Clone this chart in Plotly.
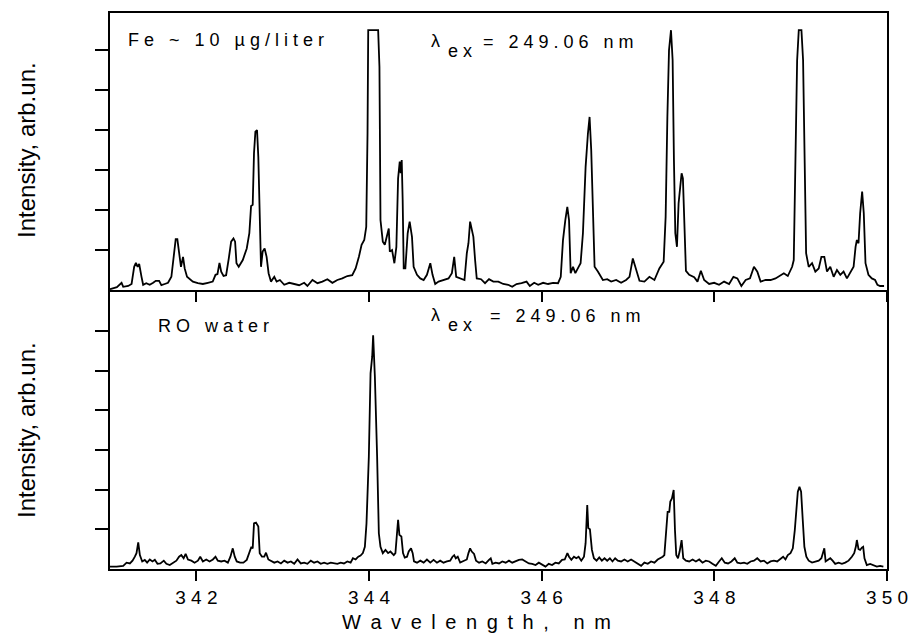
import plotly.graph_objects as go

# ---------------- data ----------------
fe_wavelength = [
    341.00, 341.08, 341.134, 341.153, 341.211, 341.25, 341.28, 341.30, 341.32, 341.338,
    341.365, 341.384, 341.42, 341.46, 341.50, 341.53, 341.569, 341.595, 341.634, 341.672,
    341.711, 341.738, 341.761, 341.78, 341.80, 341.822, 341.846, 341.865, 341.892, 341.922,
    341.96, 342.018, 342.076, 342.134, 342.19, 342.222, 342.245, 342.268, 342.288, 342.315,
    342.345, 342.376, 342.403, 342.43, 342.449, 342.465, 342.491, 342.538, 342.584, 342.614,
    342.634, 342.653, 342.668, 342.684, 342.703, 342.718, 342.734, 342.749, 342.768, 342.791,
    342.814, 342.837, 342.864, 342.903, 342.93, 342.968, 343.018, 343.076, 343.134, 343.191,
    343.249, 343.287, 343.345, 343.403, 343.46, 343.518, 343.576, 343.633, 343.691, 343.749,
    343.806, 343.845, 343.883, 343.914, 343.945, 343.968, 343.983, 343.991, 344.106, 344.121,
    344.133, 344.16, 344.183, 344.21, 344.229, 344.241, 344.267, 344.294, 344.317, 344.337,
    344.356, 344.367, 344.379, 344.39, 344.402, 344.421, 344.448, 344.471, 344.498, 344.517,
    344.556, 344.594, 344.633, 344.671, 344.71, 344.736, 344.767, 344.806, 344.863, 344.921,
    344.96, 344.987, 345.01, 345.056, 345.106, 345.133, 345.152, 345.171, 345.19, 345.209,
    345.229, 345.248, 345.298, 345.344, 345.39, 345.44, 345.498, 345.555, 345.613, 345.659,
    345.709, 345.767, 345.825, 345.863, 345.913, 345.96, 346.017, 346.074, 346.132, 346.19,
    346.221, 346.247, 346.274, 346.297, 346.317, 346.336, 346.363, 346.39, 346.428, 346.451,
    346.478, 346.509, 346.536, 346.555, 346.574, 346.594, 346.613, 346.651, 346.709, 346.759,
    346.805, 346.863, 346.92, 346.978, 347.017, 347.056, 347.094, 347.133, 347.19, 347.248,
    347.306, 347.363, 347.413, 347.436, 347.456, 347.475, 347.498, 347.517, 347.532, 347.548,
    347.567, 347.586, 347.605, 347.621, 347.636, 347.652, 347.671, 347.709, 347.767, 347.805,
    347.844, 347.882, 347.94, 347.998, 348.055, 348.113, 348.171, 348.221, 348.267, 348.313,
    348.363, 348.413, 348.459, 348.498, 348.536, 348.594, 348.651, 348.709, 348.767, 348.805,
    348.851, 348.901, 348.92, 348.94, 348.959, 348.978, 349.009, 349.028, 349.047, 349.063,
    349.093, 349.132, 349.17, 349.209, 349.24, 349.274, 349.305, 349.343, 349.382, 349.42,
    349.459, 349.497, 349.536, 349.574, 349.613, 349.636, 349.651, 349.67, 349.689, 349.712,
    349.731, 349.751, 349.785, 349.824, 349.862, 349.889, 349.92, 349.966,
]
fe_intensity = [
    0.02, 0.07, 0.18, 0.08, 0.10, 0.15, 0.58, 0.68, 0.58, 0.65,
    0.33, 0.13, 0.17, 0.13, 0.18, 0.23, 0.23, 0.12, 0.15, 0.18,
    0.33, 0.92, 1.27, 1.27, 0.92, 0.58, 0.83, 0.54, 0.33, 0.27,
    0.21, 0.17, 0.15, 0.18, 0.21, 0.38, 0.40, 0.68, 0.46, 0.35,
    0.37, 0.79, 1.21, 1.29, 1.21, 0.67, 0.58, 0.75, 1.04, 1.42,
    2.10, 2.13, 3.42, 3.96, 4.00, 3.33, 1.92, 0.58, 0.96, 1.04,
    0.83, 0.42, 0.21, 0.33, 0.21, 0.25, 0.13, 0.18, 0.15, 0.12,
    0.18, 0.10, 0.25, 0.17, 0.21, 0.27, 0.18, 0.25, 0.29, 0.35,
    0.37, 0.54, 0.83, 1.13, 1.25, 1.58, 3.92, 6.50, 6.50, 5.58,
    1.75, 1.21, 1.13, 1.38, 1.54, 0.96, 1.00, 0.67, 1.08, 2.79,
    3.21, 2.92, 3.25, 2.25, 0.54, 0.54, 1.42, 1.71, 1.33, 0.58,
    0.38, 0.29, 0.25, 0.38, 0.67, 0.38, 0.15, 0.21, 0.25, 0.29,
    0.42, 0.83, 0.33, 0.29, 0.25, 0.92, 1.17, 1.71, 1.50, 1.33,
    0.75, 0.29, 0.27, 0.17, 0.27, 0.21, 0.21, 0.15, 0.13, 0.08,
    0.15, 0.17, 0.21, 0.10, 0.18, 0.13, 0.18, 0.15, 0.18, 0.17,
    0.33, 1.25, 1.75, 2.08, 1.75, 0.42, 0.58, 0.42, 0.58, 0.67,
    1.42, 3.08, 3.92, 4.33, 3.50, 1.83, 0.58, 0.46, 0.25, 0.27,
    0.21, 0.25, 0.18, 0.25, 0.33, 0.79, 0.50, 0.23, 0.21, 0.33,
    0.25, 0.54, 0.71, 1.83, 4.33, 6.00, 6.50, 5.75, 3.25, 1.42,
    1.08, 2.17, 2.58, 2.92, 2.79, 1.42, 0.48, 0.38, 0.32, 0.21,
    0.48, 0.25, 0.15, 0.18, 0.13, 0.21, 0.15, 0.33, 0.29, 0.10,
    0.25, 0.29, 0.58, 0.46, 0.21, 0.25, 0.25, 0.29, 0.38, 0.42,
    0.35, 0.58, 0.75, 3.08, 5.75, 6.50, 6.50, 5.75, 3.08, 0.92,
    0.58, 0.67, 0.46, 0.54, 0.83, 0.83, 0.46, 0.58, 0.33, 0.50,
    0.38, 0.46, 0.29, 0.43, 0.58, 1.08, 1.25, 1.17, 1.92, 2.46,
    1.92, 0.67, 0.38, 0.29, 0.25, 0.13, 0.10, 0.10,
]

ro_wavelength = [
    341.00, 341.077, 341.153, 341.192, 341.23, 341.261, 341.288, 341.307, 341.327, 341.346,
    341.373, 341.403, 341.43, 341.461, 341.492, 341.519, 341.55, 341.584, 341.623, 341.653,
    341.692, 341.73, 341.769, 341.80, 341.826, 341.853, 341.876, 341.903, 341.942, 341.98,
    342.018, 342.045, 342.076, 342.115, 342.153, 342.192, 342.222, 342.249, 342.288, 342.326,
    342.365, 342.395, 342.422, 342.445, 342.468, 342.507, 342.545, 342.584, 342.614, 342.638,
    342.653, 342.668, 342.691, 342.718, 342.734, 342.76, 342.787, 342.807, 342.834, 342.864,
    342.903, 342.941, 342.98, 343.018, 343.057, 343.095, 343.134, 343.172, 343.21, 343.249,
    343.287, 343.326, 343.364, 343.403, 343.441, 343.48, 343.518, 343.557, 343.595, 343.633,
    343.672, 343.71, 343.749, 343.787, 343.814, 343.845, 343.876, 343.902, 343.929, 343.952,
    343.971, 343.998, 344.018, 344.037, 344.048, 344.068, 344.094, 344.114, 344.133, 344.16,
    344.191, 344.221, 344.248, 344.287, 344.306, 344.321, 344.337, 344.352, 344.375, 344.394,
    344.414, 344.44, 344.46, 344.487, 344.506, 344.521, 344.556, 344.594, 344.633, 344.671,
    344.71, 344.748, 344.787, 344.825, 344.863, 344.902, 344.94, 344.967, 344.987, 345.005,
    345.028, 345.056, 345.094, 345.133, 345.152, 345.171, 345.19, 345.217, 345.24, 345.275,
    345.313, 345.352, 345.39, 345.41, 345.429, 345.467, 345.506, 345.544, 345.583, 345.621,
    345.659, 345.698, 345.736, 345.775, 345.813, 345.852, 345.89, 345.929, 345.967, 346.005,
    346.044, 346.082, 346.121, 346.159, 346.198, 346.236, 346.267, 346.298, 346.317, 346.344,
    346.374, 346.401, 346.428, 346.459, 346.49, 346.509, 346.521, 346.528, 346.54, 346.559,
    346.582, 346.605, 346.636, 346.667, 346.697, 346.728, 346.759, 346.79, 346.82, 346.851,
    346.882, 346.92, 346.959, 346.997, 347.036, 347.074, 347.113, 347.152, 347.19, 347.229,
    347.267, 347.306, 347.344, 347.375, 347.402, 347.421, 347.44, 347.459, 347.478, 347.49,
    347.509, 347.529, 347.544, 347.559, 347.579, 347.598, 347.621, 347.64, 347.671, 347.709,
    347.748, 347.786, 347.825, 347.863, 347.901, 347.94, 347.978, 348.017, 348.055, 348.086,
    348.121, 348.159, 348.198, 348.236, 348.267, 348.305, 348.344, 348.382, 348.42, 348.459,
    348.497, 348.536, 348.574, 348.613, 348.651, 348.69, 348.728, 348.767, 348.797, 348.824,
    348.851, 348.882, 348.909, 348.932, 348.951, 348.967, 348.986, 349.005, 349.024, 349.043,
    349.066, 349.093, 349.132, 349.17, 349.209, 349.24, 349.259, 349.274, 349.289, 349.316,
    349.343, 349.37, 349.40, 349.439, 349.478, 349.516, 349.555, 349.593, 349.62, 349.639,
    349.651, 349.67, 349.689, 349.709, 349.724, 349.739, 349.766, 349.805, 349.843, 349.882,
    349.92, 349.958,
]
ro_intensity = [
    0.06, 0.06, 0.08, 0.16, 0.14, 0.21, 0.31, 0.40, 0.67, 0.35,
    0.19, 0.23, 0.16, 0.24, 0.19, 0.23, 0.13, 0.14, 0.21, 0.13,
    0.10, 0.16, 0.21, 0.31, 0.35, 0.27, 0.38, 0.24, 0.21, 0.16,
    0.21, 0.31, 0.19, 0.24, 0.19, 0.24, 0.31, 0.21, 0.19, 0.21,
    0.16, 0.31, 0.52, 0.31, 0.19, 0.16, 0.16, 0.23, 0.40, 0.56,
    0.52, 1.15, 1.17, 1.07, 0.40, 0.31, 0.31, 0.41, 0.24, 0.21,
    0.16, 0.19, 0.14, 0.21, 0.16, 0.19, 0.13, 0.24, 0.14, 0.16,
    0.13, 0.21, 0.16, 0.19, 0.13, 0.16, 0.13, 0.16, 0.14, 0.13,
    0.16, 0.14, 0.19, 0.16, 0.27, 0.24, 0.31, 0.34, 0.40, 0.56,
    1.15, 2.83, 4.93, 5.35, 5.89, 4.85, 2.83, 0.90, 0.56, 0.40,
    0.48, 0.40, 0.44, 0.35, 0.40, 0.82, 1.24, 0.86, 0.82, 0.40,
    0.29, 0.31, 0.44, 0.52, 0.40, 0.19, 0.16, 0.21, 0.16, 0.24,
    0.16, 0.23, 0.16, 0.21, 0.16, 0.19, 0.21, 0.31, 0.35, 0.27,
    0.31, 0.16, 0.19, 0.24, 0.40, 0.52, 0.44, 0.38, 0.21, 0.16,
    0.19, 0.14, 0.23, 0.27, 0.13, 0.16, 0.14, 0.19, 0.16, 0.21,
    0.16, 0.19, 0.23, 0.24, 0.19, 0.14, 0.13, 0.10, 0.16, 0.10,
    0.06, 0.13, 0.10, 0.16, 0.14, 0.23, 0.24, 0.40, 0.31, 0.23,
    0.31, 0.27, 0.31, 0.21, 0.31, 0.65, 1.24, 1.61, 1.03, 1.00,
    0.48, 0.27, 0.21, 0.29, 0.21, 0.27, 0.21, 0.27, 0.19, 0.27,
    0.21, 0.19, 0.24, 0.19, 0.24, 0.19, 0.13, 0.08, 0.16, 0.13,
    0.19, 0.16, 0.24, 0.27, 0.31, 0.35, 0.82, 1.44, 1.44, 1.70,
    1.78, 1.99, 0.98, 0.35, 0.27, 0.44, 0.73, 0.27, 0.21, 0.19,
    0.24, 0.19, 0.24, 0.16, 0.21, 0.19, 0.13, 0.08, 0.19, 0.27,
    0.16, 0.14, 0.19, 0.27, 0.16, 0.14, 0.16, 0.13, 0.19, 0.21,
    0.27, 0.19, 0.21, 0.14, 0.19, 0.21, 0.19, 0.27, 0.31, 0.24,
    0.35, 0.40, 0.52, 0.98, 1.65, 1.95, 2.07, 1.95, 1.24, 0.56,
    0.31, 0.21, 0.16, 0.19, 0.21, 0.27, 0.40, 0.52, 0.19, 0.23,
    0.27, 0.21, 0.13, 0.16, 0.13, 0.16, 0.21, 0.31, 0.40, 0.56,
    0.73, 0.50, 0.48, 0.54, 0.56, 0.27, 0.10, 0.13, 0.10, 0.06,
    0.08, 0.06,
]

x_tick_values = [342, 344, 346, 348, 350]
x_tick_labels = ["342", "344", "346", "348", "350"]
y_tick_values = [1, 2, 3, 4, 5, 6]

x_title = "Wavelength, nm"
y_title = "Intensity, arb.un."
top_label = "Fe ~ 10 µg/liter"
bottom_label = "RO water"
excitation_value = "= 249.06 nm"

# ---------------- styling helpers ----------------
W, H = 909, 640
FONT = "Liberation Sans, Arial, sans-serif"
NB = "\u00a0"
THIN = "\u2009"


def spaced(s, gap=NB):
    return gap.join(s)


def px(x):
    return x / W


def py(y):
    return 1 - y / H


x_dom = [px(110), px(887)]
top_dom = [py(290), py(13)]
bot_dom = [py(569), py(290)]

fig = go.Figure()
fig.add_trace(go.Scatter(x=fe_wavelength, y=fe_intensity, mode="lines",
                         line=dict(color="black", width=1.8), xaxis="x", yaxis="y",
                         showlegend=False, hoverinfo="skip"))
fig.add_trace(go.Scatter(x=ro_wavelength, y=ro_intensity, mode="lines",
                         line=dict(color="black", width=1.8), xaxis="x2", yaxis="y2",
                         showlegend=False, hoverinfo="skip"))

axis_common = dict(showline=True, linecolor="black", linewidth=2,
                   showgrid=False, zeroline=False, ticks="outside",
                   tickcolor="black", tickwidth=2, automargin=False)

fig.update_layout(
    width=W, height=H,
    margin=dict(l=0, r=0, t=0, b=0),
    paper_bgcolor="white", plot_bgcolor="white",
    font=dict(family=FONT, color="black"),
    xaxis=dict(domain=x_dom, anchor="y", range=[341, 350], tickvals=x_tick_values,
               showticklabels=False, ticklen=10, mirror=True, **axis_common),
    yaxis=dict(domain=top_dom, anchor="x", range=[0, 6.93], tickvals=y_tick_values,
               showticklabels=False, ticklen=13, mirror=True, **axis_common),
    xaxis2=dict(domain=x_dom, anchor="y2", range=[341, 350], tickvals=x_tick_values,
                ticktext=[spaced(t) for t in x_tick_labels], ticklen=10,
                tickfont=dict(size=19, family=FONT, color="black"),
                ticklabelstandoff=0, mirror=False, **axis_common),
    yaxis2=dict(domain=bot_dom, anchor="x2", range=[0, 7.03], tickvals=y_tick_values,
                showticklabels=False, ticklen=13, mirror=True, **axis_common),
)

ann = []


def add_text(text, x, y, size, xanchor="left", angle=0):
    ann.append(dict(text=text, x=px(x), y=py(y), xref="paper", yref="paper",
                    xanchor=xanchor, yanchor="middle", showarrow=False, textangle=angle,
                    font=dict(size=size, family=FONT, color="black")))


# panel labels
add_text(spaced(top_label), 126, 39.5, 18)
add_text(spaced(bottom_label), 156, 325.5, 18)
# excitation wavelength, top and bottom
for dy, xeq in ((0, 481), (274, 488)):
    add_text("λ", 429, 41 + dy, 18)
    add_text(spaced("ex"), 446, 51 + dy, 18)
    add_text(spaced(excitation_value), xeq, 42 + dy, 18)
# axis titles
add_text(spaced(x_title, NB + THIN), 476, 622, 20, xanchor="center")
add_text(y_title, 26, 150, 24, xanchor="center", angle=-90)
add_text(y_title, 26, 430, 24, xanchor="center", angle=-90)

fig.update_layout(annotations=ann)
fig.write_html("out.html")
